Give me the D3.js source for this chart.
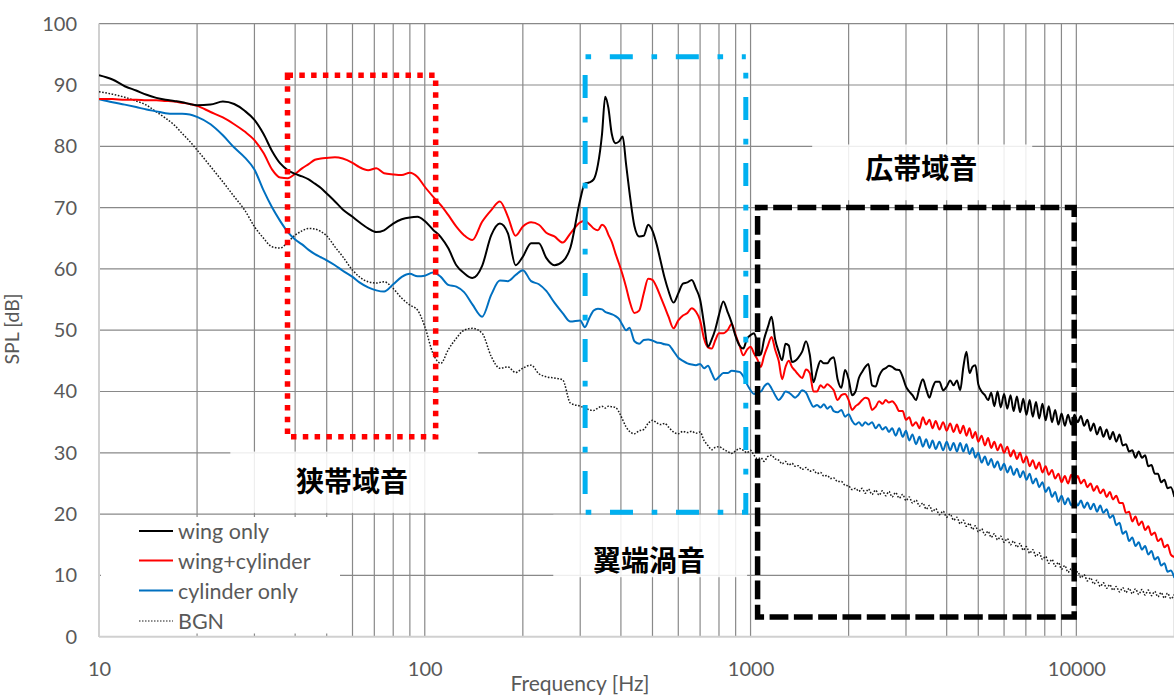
<!DOCTYPE html>
<html>
<head>
<meta charset="utf-8">
<title>SPL spectrum</title>
<script src="https://cdn.jsdelivr.net/npm/d3@7/dist/d3.min.js"></script>
<style>
  html, body { margin: 0; padding: 0; background: #ffffff; }
  svg { display: block; }
</style>
</head>
<body>
<svg id="chart" width="1174" height="696"></svg>
<script>
// Frequency bins [Hz]
const freqHz = [
  10, 11, 12, 13, 14, 15, 16, 17, 18, 19,
  20, 22, 24, 26, 28, 30, 32, 34, 36, 38,
  40, 42, 44, 46, 48, 50, 53, 56, 60, 63,
  67, 71, 75, 80, 85, 90, 95, 100, 106, 112,
  118, 125, 132, 140, 150, 160, 170, 180, 190, 200,
  212, 224, 236, 250, 265, 280, 300, 310, 320, 330,
  340, 350, 358, 366, 375, 385, 395, 405, 415, 425,
  440, 455, 470, 485, 500, 515, 530, 545, 560, 580,
  600, 620, 640, 660, 680, 700, 720, 740, 760, 780,
  800, 825, 850, 875, 900, 925, 950, 975, 1000, 1025,
  1050, 1075, 1100, 1130, 1160, 1190, 1220, 1250, 1280, 1310,
  1340, 1370, 1400, 1440, 1480, 1520, 1560, 1600, 1640, 1680,
  1720, 1760, 1800, 1850, 1900, 1950, 2000, 2050, 2100, 2150,
  2200, 2250, 2300, 2360, 2420, 2480, 2540, 2600, 2660, 2720,
  2790, 2860, 2930, 3000, 3070, 3140, 3220, 3300, 3380, 3460,
  3540, 3620, 3700, 3800, 3900, 4000, 4100, 4200, 4300, 4400,
  4500, 4600, 4700, 4800, 4900, 5000, 5120, 5240, 5360, 5480,
  5600, 5730, 5860, 6000, 6140, 6280, 6420, 6570, 6720, 6870,
  7030, 7190, 7350, 7520, 7690, 7870, 8050, 8230, 8420, 8610,
  8810, 9010, 9220, 9430, 9650, 9870, 10100, 10330, 10570, 10810,
  11060, 11310, 11570, 11840, 12110, 12390, 12670, 12960, 13260, 13570,
  13880, 14200, 14520, 14850, 15190, 15540, 15900, 16260, 16630, 17010,
  17400, 17800, 18210, 18630, 19060, 19500, 20000
];

// SPL [dB] per bin
const wingOnly = [
  91.6, 90.9, 89.8, 89.1, 88.4, 87.9, 87.6, 87.4, 87.2, 86.9,
  86.7, 86.8, 87.3, 86.9, 85.8, 84.3, 82.0, 79.2, 77.2, 76.1,
  75.5, 75.1, 74.6, 73.9, 73.2, 72.3, 71.0, 69.7, 68.5, 67.6,
  66.6, 66.0, 66.3, 67.4, 68.1, 68.4, 68.5, 67.8, 66.4, 65.2,
  63.4, 60.6, 59.3, 58.5, 60.5, 65.5, 67.4, 65.8, 60.6, 62.0,
  64.2, 64.2, 61.8, 60.6, 61.2, 63.5, 71.3, 73.9, 74.1, 74.6,
  77.0, 82.0, 88.1, 86.3, 82.0, 80.5, 80.8, 81.6, 77.0, 72.5,
  67.0, 65.3, 65.4, 67.2, 66.2, 64.0, 61.2, 58.5, 56.4, 54.5,
  56.0, 57.6, 57.8, 58.2, 56.8, 55.0, 51.0, 47.3, 48.5, 50.2,
  52.5, 54.7, 53.0, 51.2, 49.0, 47.5, 47.0, 48.6, 49.2, 49.5,
  47.8, 46.0, 48.5, 50.5, 52.2, 48.5, 46.5, 45.1, 47.8, 47.5,
  44.8, 45.0, 45.5, 46.5, 48.2, 46.0, 41.5, 43.5, 45.0, 44.6,
  44.6, 45.3, 45.6, 42.0, 40.6, 43.5, 42.0, 39.4, 40.0, 42.2,
  43.2, 44.0, 44.5, 41.0, 40.8, 42.5, 43.5, 43.8, 44.2, 44.0,
  43.6, 43.5, 42.4, 40.8, 40.0, 39.4, 38.6, 40.6, 42.0, 40.4,
  39.0, 40.6, 41.6, 41.6, 40.2, 40.8, 41.8, 41.0, 41.8, 40.2,
  44.0, 46.5, 43.0, 44.0, 44.3, 41.2, 40.0, 39.4, 38.6, 39.8,
  37.6, 40.0, 37.4, 39.6, 37.2, 39.4, 36.8, 39.2, 36.6, 38.8,
  36.2, 38.6, 35.9, 38.3, 35.6, 38.0, 35.3, 37.6, 35.0, 37.0,
  34.6, 36.4, 34.4, 36.2, 34.6, 36.2, 35.0, 36.0, 34.4, 35.4,
  33.6, 34.8, 33.0, 34.2, 32.6, 33.8, 32.2, 33.4, 31.8, 33.0,
  31.2, 31.4, 30.2, 30.4, 29.2, 30.2, 29.2, 29.6, 27.8, 28.0,
  26.6, 26.6, 25.2, 25.6, 24.2, 24.4, 22.8
];

const wingCylinder = [
  87.7, 87.7, 87.6, 87.6, 87.5, 87.5, 87.4, 87.3, 87.1, 86.9,
  86.6, 85.6, 84.7, 83.6, 82.4, 81.0, 78.9, 76.2, 74.9, 74.8,
  75.5, 76.4, 77.1, 77.8, 78.0, 78.1, 78.2, 78.0, 77.3, 76.6,
  76.1, 76.4, 75.6, 75.4, 75.3, 75.7, 75.0, 73.4, 71.8, 70.4,
  68.8, 66.9, 65.5, 64.7, 67.7, 69.6, 71.0, 68.5, 65.4, 66.9,
  67.6, 67.2, 65.9, 65.3, 64.3, 65.8, 67.6, 67.8, 67.3, 66.6,
  66.3, 67.2, 66.8, 65.6, 64.4, 62.5, 60.8, 59.0, 57.0, 54.8,
  52.8, 53.2, 56.0, 58.4, 58.2, 57.0, 55.4, 53.8, 52.2, 50.3,
  51.6, 52.4, 52.8, 53.6, 53.0, 51.6, 48.6, 47.2, 47.0, 48.4,
  49.5, 49.5, 50.0, 51.0, 49.2, 47.5, 45.9, 46.8, 47.3, 46.2,
  45.2, 44.0, 45.8, 47.5, 48.9, 46.8, 45.0, 42.0, 44.0, 45.0,
  44.0, 43.4, 42.8, 42.2, 43.6, 43.0, 40.0, 40.0, 41.0, 40.6,
  41.2, 40.8, 40.2, 38.6, 39.4, 39.6, 38.6, 37.0, 37.6, 38.0,
  38.6, 39.0, 38.8, 37.0, 37.5, 38.4, 38.0, 38.6, 38.2, 38.4,
  37.8, 36.8, 36.8, 35.4, 35.8, 34.4, 35.0, 34.0, 35.8, 34.6,
  35.4, 34.0, 35.2, 33.8, 35.0, 33.6, 34.8, 33.4, 34.6, 33.2,
  34.4, 32.8, 34.0, 32.4, 33.4, 31.8, 32.8, 31.2, 32.4, 30.8,
  31.8, 30.4, 31.4, 30.0, 31.0, 29.4, 30.4, 29.0, 30.0, 28.4,
  29.4, 27.8, 28.8, 27.4, 28.4, 26.8, 27.8, 26.4, 27.2, 25.8,
  26.6, 25.2, 26.2, 25.0, 26.4, 25.2, 26.2, 25.0, 25.6, 24.4,
  25.0, 23.8, 24.6, 23.4, 24.0, 22.8, 23.6, 22.4, 23.0, 21.8,
  21.8, 20.2, 20.4, 18.8, 19.6, 18.2, 18.8, 17.4, 18.0, 16.6,
  17.0, 15.6, 16.0, 14.6, 15.0, 13.4, 13.0
];

const cylinderOnly = [
  87.7, 87.2, 86.8, 86.4, 86.0, 85.7, 85.4, 85.3, 85.3, 85.2,
  84.8, 83.6, 81.8, 79.8, 78.2, 76.2, 72.8, 70.0, 67.8, 66.0,
  64.8, 64.0, 63.1, 62.4, 61.9, 61.4, 60.6, 59.7, 58.7, 57.8,
  57.0, 56.5, 56.3, 57.5, 58.7, 59.2, 58.8, 58.9, 59.4, 58.7,
  57.4, 57.1, 56.2, 54.2, 52.2, 55.8, 58.1, 58.0, 59.0, 59.8,
  58.0, 57.5, 56.4, 54.5, 52.8, 51.4, 51.6, 50.5, 52.0, 53.2,
  53.5, 53.4, 53.0, 52.8, 52.6, 52.3, 51.8, 50.8, 50.0, 50.4,
  48.2, 47.8, 48.4, 48.5, 48.3, 48.0, 47.9, 47.7, 47.6, 46.6,
  45.5, 45.0, 44.6, 44.4, 44.3, 44.5, 43.8, 44.2, 43.0, 41.9,
  42.4, 43.0, 43.0, 43.4, 43.3, 43.2, 42.5, 41.2, 40.2, 39.6,
  40.0, 40.0, 40.8, 41.3, 40.5, 39.4, 38.6, 39.2, 40.0, 39.8,
  39.4, 39.0, 39.4, 40.2, 39.8, 38.5, 37.5, 37.8, 37.4, 37.9,
  37.2, 37.6, 36.8, 36.6, 37.0, 35.9, 36.3, 35.2, 34.6, 35.0,
  34.4, 35.0, 34.6, 35.0, 34.0, 34.6, 33.8, 34.2, 33.4, 34.0,
  32.8, 34.0, 32.6, 33.6, 32.0, 33.0, 31.4, 32.6, 31.0, 32.2,
  30.8, 32.0, 30.6, 31.8, 30.4, 31.8, 30.4, 31.6, 30.2, 31.6,
  30.2, 31.4, 29.8, 30.8, 29.2, 30.0, 28.4, 29.4, 28.0, 29.0,
  27.6, 28.6, 27.2, 28.2, 26.8, 27.8, 26.4, 27.4, 26.0, 27.0,
  25.6, 26.6, 25.0, 25.8, 24.4, 25.2, 23.6, 24.4, 22.8, 23.6,
  22.0, 23.0, 21.6, 22.6, 21.4, 22.4, 21.4, 22.2, 21.0, 21.9,
  20.8, 21.7, 20.4, 21.4, 20.2, 20.8, 19.4, 19.8, 18.2, 18.6,
  16.8, 17.2, 15.6, 16.2, 14.8, 15.4, 14.2, 14.8, 13.4, 14.0,
  12.6, 13.0, 11.6, 12.0, 10.6, 10.8, 9.6
];

const backgroundNoise = [
  88.9, 88.5, 88.0, 87.4, 86.7, 85.6, 84.6, 83.5, 82.1, 80.8,
  79.4, 76.7, 74.2, 71.8, 69.6, 66.9, 65.0, 63.6, 63.4, 64.4,
  65.5, 66.2, 66.6, 66.5, 66.1, 65.4, 63.6, 62.0, 59.8, 58.7,
  57.9, 57.7, 57.9, 56.8, 55.2, 54.1, 53.3, 50.6, 46.2, 44.6,
  46.8, 48.7, 50.0, 50.3, 49.5, 45.7, 43.8, 44.0, 43.1, 43.8,
  44.3, 42.9, 42.4, 42.2, 41.9, 38.1, 37.6, 37.3, 37.0, 36.9,
  37.3, 37.6, 37.3, 37.6, 37.5, 37.4, 36.6, 35.4, 34.2, 33.5,
  33.1, 33.6, 33.8, 34.8, 35.3, 34.9, 34.6, 34.8, 34.2, 33.4,
  33.1, 33.5, 33.3, 33.5, 33.2, 33.4, 32.0, 31.2, 30.5, 30.9,
  31.0, 30.6, 30.2, 29.9, 30.3, 30.7, 30.4, 30.0, 30.4, 29.6,
  29.0, 29.2, 28.6, 29.4, 29.6, 29.0, 28.8, 28.2, 28.6, 28.0,
  28.3, 27.8, 27.9, 27.3, 27.6, 27.0, 27.2, 26.6, 26.8, 26.2,
  26.3, 25.8, 25.9, 25.3, 25.3, 24.7, 24.6, 24.0, 24.2, 23.7,
  24.2, 23.4, 24.1, 23.2, 23.9, 23.1, 23.8, 23.0, 23.7, 22.8,
  23.5, 22.6, 23.2, 22.2, 22.8, 21.8, 22.3, 21.3, 21.8, 20.8,
  21.4, 20.4, 20.9, 19.9, 20.5, 19.5, 20.0, 19.0, 19.5, 18.4,
  19.0, 18.0, 18.5, 17.5, 18.1, 17.1, 17.6, 16.6, 17.2, 16.2,
  16.8, 15.8, 16.4, 15.4, 16.0, 15.0, 15.6, 14.6, 15.2, 14.1,
  14.7, 13.6, 14.2, 13.1, 13.7, 12.6, 13.1, 12.0, 12.6, 11.5,
  12.1, 11.0, 11.6, 10.5, 11.1, 10.0, 10.6, 9.6, 10.1, 9.1,
  9.6, 8.6, 9.2, 8.2, 8.8, 7.9, 8.5, 7.6, 8.2, 7.3,
  8.0, 7.2, 7.9, 7.0, 7.8, 6.9, 7.7, 6.8, 7.6, 6.7,
  7.4, 6.5, 7.2, 6.3, 7.1, 6.2, 6.9
];

const seriesNames = ["wing only", "wing+cylinder", "cylinder only", "BGN"];
const xTickValues = [10, 100, 1000, 10000];
const yTickValues = [0, 10, 20, 30, 40, 50, 60, 70, 80, 90, 100];
const xTitle = "Frequency [Hz]";
const yTitle = "SPL [dB]";
const bandLabels = ["狭帯域音", "翼端渦音", "広帯域音"];

// ---------- layout ----------
const svg = d3.select("#chart");
const plot = { left: 99, right: 1174.4, top: 23.7, bottom: 636.7 };
const x = d3.scaleLog().domain([10, 20000]).range([plot.left, plot.right]);
const y = d3.scaleLinear().domain([0, 100]).range([plot.bottom, plot.top]);

const gridColor = "#898989";
const axisColor = "#d0d0d0";
const textColor = "#595959";
const latin = "Lato, 'Open Sans', 'Liberation Sans', sans-serif";
const cjk = "'Noto Sans CJK JP', 'Noto Sans CJK SC', sans-serif";

// ---------- grid ----------
const grid = svg.append("g");
grid.selectAll("line.v")
  .data(x.ticks())
  .join("line")
  .attr("x1", d => x(d)).attr("x2", d => x(d))
  .attr("y1", plot.top).attr("y2", plot.bottom)
  .attr("stroke", gridColor).attr("stroke-width", 1.2);

grid.selectAll("line.h")
  .data(yTickValues.filter(v => v > 0))
  .join("line")
  .attr("x1", plot.left).attr("x2", plot.right)
  .attr("y1", d => y(d)).attr("y2", d => y(d))
  .attr("stroke", gridColor).attr("stroke-width", 1.2);

// axis lines
svg.append("line")
  .attr("x1", plot.left).attr("x2", plot.left)
  .attr("y1", plot.top).attr("y2", plot.bottom)
  .attr("stroke", axisColor).attr("stroke-width", 2);
svg.append("line")
  .attr("x1", plot.left).attr("x2", plot.right)
  .attr("y1", plot.bottom).attr("y2", plot.bottom)
  .attr("stroke", axisColor).attr("stroke-width", 2);

// ---------- tick labels ----------
const xAxis = svg.append("g")
  .attr("transform", `translate(0,${plot.bottom})`)
  .call(d3.axisBottom(x).tickValues(xTickValues).tickFormat(d3.format("d")).tickSize(0).tickPadding(25));
const yAxis = svg.append("g")
  .attr("transform", `translate(${plot.left},0)`)
  .call(d3.axisLeft(y).tickValues(yTickValues).tickFormat(d3.format("d")).tickSize(0).tickPadding(22));
[xAxis, yAxis].forEach(a => {
  a.select(".domain").remove();
  a.selectAll("text")
    .attr("fill", textColor)
    .style("font-family", latin)
    .style("font-size", "20px");
});

// axis titles
svg.append("text")
  .attr("x", 580).attr("y", 690.5)
  .attr("text-anchor", "middle")
  .attr("fill", textColor)
  .style("font-family", latin).style("font-size", "21px")
  .text(xTitle);
svg.append("text")
  .attr("transform", "translate(19,329) rotate(-90)")
  .attr("text-anchor", "middle")
  .attr("fill", textColor)
  .style("font-family", latin).style("font-size", "19.5px")
  .text(yTitle);

// ---------- band label boxes ----------
const labelBoxes = [
  { text: bandLabels[0], f0: 25.3, f1: 145.8, lo: 20.2, hi: 30.2, fc: 59.8, vc: 25.5 },
  { text: bandLabels[1], f0: 248, f1: 976, lo: 9.7, hi: 19.9, fc: 488, vc: 12.75 },
  { text: bandLabels[2], f0: 1546, f1: 7322, lo: 71.2, hi: 80.3, fc: 3341, vc: 76.7 }
];
const lbl = svg.append("g");
lbl.selectAll("rect")
  .data(labelBoxes)
  .join("rect")
  .attr("x", d => x(d.f0)).attr("width", d => x(d.f1) - x(d.f0))
  .attr("y", d => y(d.hi)).attr("height", d => y(d.lo) - y(d.hi))
  .attr("fill", "#ffffff").attr("fill-opacity", 0.86);
lbl.selectAll("text")
  .data(labelBoxes)
  .join("text")
  .attr("x", d => x(d.fc)).attr("y", d => y(d.vc))
  .attr("text-anchor", "middle")
  .attr("dominant-baseline", "central")
  .attr("fill", "#000000")
  .style("font-family", cjk).style("font-size", "28px").style("font-weight", 700)
  .text(d => d.text);

// ---------- series ----------
const seriesValues = [wingOnly, wingCylinder, cylinderOnly, backgroundNoise];
const seriesStyles = [
  { color: "#000000", width: 2, dash: null },
  { color: "#ff0000", width: 2, dash: null },
  { color: "#0070c0", width: 2, dash: null },
  { color: "#1a1a1a", width: 1.5, dash: "1.6 1.6" }
];
const line = d3.line()
  .x(d => x(d[0]))
  .y(d => y(d[1]))
  .curve(d3.curveMonotoneX);

svg.append("defs").append("clipPath").attr("id", "plotClip")
  .append("rect")
  .attr("x", plot.left).attr("y", plot.top)
  .attr("width", plot.right - plot.left).attr("height", plot.bottom - plot.top);

const drawOrder = [3, 2, 1, 0];
svg.append("g").attr("clip-path", "url(#plotClip)")
  .selectAll("path")
  .data(drawOrder)
  .join("path")
  .attr("d", i => line(freqHz.map((f, k) => [f, seriesValues[i][k]])))
  .attr("fill", "none")
  .attr("stroke", i => seriesStyles[i].color)
  .attr("stroke-width", i => seriesStyles[i].width)
  .attr("stroke-dasharray", i => seriesStyles[i].dash)
  .attr("stroke-linejoin", "round");

// ---------- band outline boxes ----------
const bandBoxes = [
  { f0: 37.9, f1: 108, lo: 32.6, hi: 91.6, color: "#ff0000", width: 5.5, dash: "5.5 6.3", offset: 0, ccw: false },
  { f0: 310.6, f1: 967, lo: 20.3, hi: 94.6, color: "#00b0f0", width: 5, dash: "23 18.7 5.6 18.7", offset: 19, ccw: true },
  { f0: 1051, f1: 9850, lo: 3.2, hi: 70.0, color: "#000000", width: 5.5, dash: "18.8 5.5", offset: 8.7, ccw: false }
];
svg.append("g").selectAll("path")
  .data(bandBoxes)
  .join("path")
  .attr("d", d => {
    const l = x(d.f0), r = x(d.f1), t = y(d.hi), b = y(d.lo);
    return d.ccw
      ? `M${r},${t}L${l},${t}L${l},${b}L${r},${b}Z`
      : `M${l},${t}L${r},${t}L${r},${b}L${l},${b}Z`;
  })
  .attr("fill", "none")
  .attr("stroke", d => d.color)
  .attr("stroke-width", d => d.width)
  .attr("stroke-dasharray", d => d.dash)
  .attr("stroke-dashoffset", d => d.offset);

// ---------- legend ----------
const legend = svg.append("g");
legend.append("rect")
  .attr("x", 101).attr("y", 517)
  .attr("width", 239).attr("height", 116.5)
  .attr("fill", "#ffffff");
const rowY = [531, 560.5, 590.5, 621];
const items = legend.selectAll("g.item")
  .data(seriesNames.map((name, i) => ({ name, i })))
  .join("g")
  .attr("transform", d => `translate(0,${rowY[d.i]})`);
items.append("line")
  .attr("x1", 139).attr("x2", 173)
  .attr("y1", 0).attr("y2", 0)
  .attr("stroke", d => seriesStyles[d.i].color)
  .attr("stroke-width", d => seriesStyles[d.i].dash ? 1.2 : 2)
  .attr("stroke-dasharray", d => seriesStyles[d.i].dash ? "1.5 1.5" : null);
items.append("text")
  .attr("x", 178).attr("y", 0)
  .attr("dominant-baseline", "central")
  .attr("fill", textColor)
  .style("font-family", latin).style("font-size", "21.5px")
  .text(d => d.name);
</script>
</body>
</html>
